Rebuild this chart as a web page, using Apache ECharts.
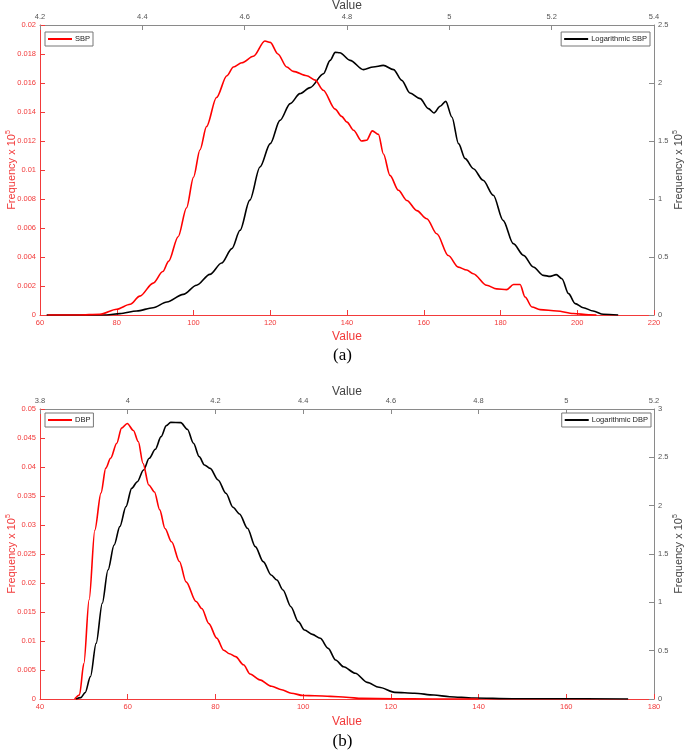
<!DOCTYPE html>
<html>
<head>
<meta charset="utf-8">
<script src="https://cdn.jsdelivr.net/npm/echarts@6/dist/echarts.min.js"></script>
<style>html,body{margin:0;padding:0;background:#fff}#c{width:685px;height:751px}</style>
</head>
<body>
<div id="c"></div>
<script>
// (a) SBP – raw values (bottom axis / left axis)
var sbpX = [62, 70, 75.6, 80, 83.5, 86, 89.5, 92, 93.5, 96, 98.2, 100, 101.7, 103.4, 106, 108.7, 110.4, 112.6, 115.6, 118.6, 120, 122, 124.3, 126, 129.5, 131.7, 133.8, 136.9, 138.6, 140, 141.7, 143.8, 145.1, 146.6, 148.2, 149.5, 151.2, 153.4, 155.6, 158.2, 160.8, 163.4, 166.4, 169, 171.2, 172.9, 176.4, 179, 181.6, 183.4, 185.1, 186.4, 188.2, 190.3, 194.7, 199, 203, 205];
var sbpY = [0, 0, 0.00005, 0.0004, 0.00074, 0.0013, 0.0022, 0.003, 0.0037, 0.0054, 0.0074, 0.0095, 0.0114, 0.013, 0.015, 0.0165, 0.0171, 0.0174, 0.01784, 0.0189, 0.0188, 0.018, 0.0171, 0.0168, 0.0165, 0.0162, 0.0155, 0.0142, 0.0137, 0.0133, 0.01274, 0.0120, 0.01205, 0.0127, 0.01246, 0.0111, 0.00963, 0.0086, 0.0079, 0.0072, 0.00664, 0.0056, 0.0041, 0.0033, 0.0031, 0.00285, 0.00205, 0.0018, 0.00175, 0.0021, 0.0021, 0.00124, 0.00055, 0.00037, 0.00028, 0.0001, 0.00002, 0];
// (a) Logarithmic SBP (top axis / right axis)
var logSbpX = [4.213, 4.33, 4.356, 4.389, 4.421, 4.448, 4.48, 4.506, 4.532, 4.555, 4.575, 4.591, 4.61, 4.63, 4.65, 4.669, 4.689, 4.708, 4.728, 4.754, 4.767, 4.777, 4.786, 4.806, 4.832, 4.851, 4.871, 4.891, 4.907, 4.923, 4.943, 4.959, 4.97, 4.982, 4.993, 5.005, 5.018, 5.031, 5.047, 5.066, 5.086, 5.105, 5.125, 5.145, 5.164, 5.184, 5.197, 5.209, 5.22, 5.233, 5.246, 5.262, 5.281, 5.301, 5.33];
var logSbpY = [0, 0, 0.012, 0.034, 0.063, 0.112, 0.178, 0.256, 0.35, 0.448, 0.572, 0.73, 0.99, 1.276, 1.477, 1.678, 1.822, 1.908, 1.96, 2.08, 2.195, 2.264, 2.261, 2.195, 2.115, 2.138, 2.152, 2.115, 2.023, 1.914, 1.865, 1.779, 1.741, 1.799, 1.842, 1.707, 1.477, 1.348, 1.261, 1.161, 1.032, 0.816, 0.615, 0.514, 0.414, 0.342, 0.333, 0.348, 0.313, 0.184, 0.098, 0.063, 0.034, 0.006, 0];
// (b) DBP
var dbpX = [47.9, 49, 50, 51.2, 52.5, 53.9, 55, 56.1, 57.5, 58.6, 59.9, 61.3, 62.4, 63.5, 64.8, 66.1, 67.3, 68.5, 70, 71.8, 73.3, 75.6, 76.9, 78.5, 80.3, 81.9, 83.2, 84.6, 86.4, 87.9, 90.1, 92.8, 95.1, 97.3, 100, 102.7, 106.2, 109.8, 113.4, 120.6, 129.5, 140];
var dbpY = [0, 0.0007, 0.0061, 0.0171, 0.0291, 0.0355, 0.0398, 0.0415, 0.0441, 0.0467, 0.0475, 0.0463, 0.0444, 0.0406, 0.0369, 0.0357, 0.0326, 0.0294, 0.0271, 0.0237, 0.0202, 0.0168, 0.0156, 0.013, 0.0105, 0.0084, 0.0078, 0.0073, 0.0059, 0.0043, 0.0033, 0.0022, 0.0016, 0.001, 0.0006, 0.00057, 0.00046, 0.0003, 0.0001, 0.00005, 0, 0];
// (b) Logarithmic DBP
var logDbpX = [3.882, 3.893, 3.903, 3.915, 3.928, 3.942, 3.955, 3.969, 3.982, 3.996, 4.009, 4.022, 4.036, 4.049, 4.063, 4.076, 4.088, 4.098, 4.121, 4.136, 4.15, 4.163, 4.175, 4.188, 4.206, 4.224, 4.24, 4.255, 4.273, 4.291, 4.309, 4.327, 4.34, 4.354, 4.372, 4.389, 4.403, 4.421, 4.439, 4.457, 4.474, 4.492, 4.519, 4.546, 4.573, 4.609, 4.654, 4.698, 4.734, 4.788, 4.877, 4.967, 5.141];
var logDbpY = [0, 0.014, 0.066, 0.231, 0.576, 0.99, 1.334, 1.593, 1.783, 1.99, 2.179, 2.248, 2.369, 2.49, 2.583, 2.714, 2.828, 2.862, 2.859, 2.79, 2.645, 2.507, 2.421, 2.386, 2.266, 2.128, 1.983, 1.914, 1.766, 1.576, 1.421, 1.283, 1.231, 1.128, 0.955, 0.8, 0.714, 0.669, 0.628, 0.524, 0.403, 0.334, 0.266, 0.172, 0.121, 0.069, 0.059, 0.041, 0.024, 0.01, 0.003, 0.003, 0];

var RED = '#ff0000', RED_AX = '#f23a3a', GRAY = '#555', GRAY_LINE = '#8a8a8a';
var FONT = 'Liberation Sans';

function pairs(xs, ys) { return xs.map(function (x, i) { return [x, ys[i]]; }); }

function freqName(color) {
  return {
    name: 'Frequency x 10{s|5}',
    nameLocation: 'middle',
    nameRotate: 90,
    nameMoveOverlap: false,
    nameTextStyle: { color: color, fontSize: 11, fontFamily: FONT,
      rich: { s: { fontSize: 7, color: color, fontFamily: FONT, padding: [0, 0, 7, 0] } } }
  };
}

function axisCommon(lineColor, labelColor) {
  return {
    type: 'value',
    nameMoveOverlap: false,
    axisLine: { show: true, onZero: false, lineStyle: { color: lineColor, width: 1 } },
    axisTick: { show: true, inside: true, length: 5, lineStyle: { color: lineColor } },
    axisLabel: { color: labelColor, fontSize: 7.5, fontFamily: FONT, margin: 4, showMinLabel: true, showMaxLabel: true, hideOverlap: false },
    splitLine: { show: false }
  };
}

function merge(a, b) { var o = {}; for (var k in a) o[k] = a[k]; for (var k2 in b) o[k2] = b[k2]; return o; }

var grids = [
  { left: 40, right: 31, top: 25, height: 290, containLabel: false, outerBoundsMode: 'none' },
  { left: 40, right: 31, top: 409, height: 290, containLabel: false, outerBoundsMode: 'none' }
];

var xAxes = [
  merge(axisCommon(RED_AX, RED_AX), { gridIndex: 0, position: 'bottom', min: 60, max: 220, interval: 20,
    name: 'Value', nameLocation: 'middle', nameGap: 16, nameTextStyle: { color: RED_AX, fontSize: 12, fontFamily: FONT } }),
  merge(axisCommon(GRAY_LINE, GRAY), { gridIndex: 0, position: 'top', min: 4.2, max: 5.4, interval: 0.2,
    name: 'Value', nameLocation: 'middle', nameGap: 13, nameTextStyle: { color: '#444', fontSize: 12, fontFamily: FONT } }),
  merge(axisCommon(RED_AX, RED_AX), { gridIndex: 1, position: 'bottom', min: 40, max: 180, interval: 20,
    name: 'Value', nameLocation: 'middle', nameGap: 17, nameTextStyle: { color: RED_AX, fontSize: 12, fontFamily: FONT } }),
  merge(axisCommon(GRAY_LINE, GRAY), { gridIndex: 1, position: 'top', min: 3.8, max: 5.2, interval: 0.2,
    name: 'Value', nameLocation: 'middle', nameGap: 11, nameTextStyle: { color: '#444', fontSize: 12, fontFamily: FONT } })
];

var yAxes = [
  merge(merge(axisCommon(RED_AX, RED_AX), freqName(RED_AX)), { gridIndex: 0, position: 'left', min: 0, max: 0.02, interval: 0.002, nameGap: 21 }),
  merge(merge(axisCommon(GRAY_LINE, GRAY), freqName('#444')), { gridIndex: 0, position: 'right', min: 0, max: 2.5, interval: 0.5, nameGap: 18 }),
  merge(merge(axisCommon(RED_AX, RED_AX), freqName(RED_AX)), { gridIndex: 1, position: 'left', min: 0, max: 0.05, interval: 0.005, nameGap: 21 }),
  merge(merge(axisCommon(GRAY_LINE, GRAY), freqName('#444')), { gridIndex: 1, position: 'right', min: 0, max: 3, interval: 0.5, nameGap: 18 })
];

function lineSeries(name, x, y, xi, yi, color) {
  return { type: 'line', name: name, xAxisIndex: xi, yAxisIndex: yi, data: pairs(x, y),
    showSymbol: false, smooth: 0.3, smoothMonotone: 'x',
    lineStyle: { color: color, width: 1.6 }, itemStyle: { color: color }, z: color === RED ? 3 : 2 };
}

function legend(name, pos) {
  var l = { data: [name], top: pos.top, orient: 'horizontal', icon: 'rect', itemWidth: 24, itemHeight: 2,
    itemGap: 2, padding: [3, 3, 3, 3], borderColor: '#777', borderWidth: 1, backgroundColor: '#fff',
    textStyle: { fontSize: 7.5, color: '#222', fontFamily: FONT, padding: [0, 0, 0, -2] }, selectedMode: false };
  if (pos.left != null) l.left = pos.left;
  if (pos.right != null) l.right = pos.right;
  return l;
}

var chart = echarts.init(document.getElementById('c'), null, { renderer: 'canvas' });
chart.setOption({
  animation: false,
  backgroundColor: '#fff',
  grid: grids,
  xAxis: xAxes,
  yAxis: yAxes,
  legend: [
    legend('SBP', { left: 45, top: 32 }),
    legend('Logarithmic SBP', { right: 35, top: 32 }),
    legend('DBP', { left: 45, top: 413 }),
    legend('Logarithmic DBP', { right: 34, top: 413 })
  ],
  title: [
    { text: '(a)', left: 'center', top: 342, textStyle: { fontFamily: 'Liberation Serif', fontSize: 17, fontWeight: 'normal', color: '#000' } },
    { text: '(b)', left: 'center', top: 728, textStyle: { fontFamily: 'Liberation Serif', fontSize: 17, fontWeight: 'normal', color: '#000' } }
  ],
  series: [
    lineSeries('Logarithmic SBP', logSbpX, logSbpY, 1, 1, '#000'),
    lineSeries('SBP', sbpX, sbpY, 0, 0, RED),
    lineSeries('Logarithmic DBP', logDbpX, logDbpY, 3, 3, '#000'),
    lineSeries('DBP', dbpX, dbpY, 2, 2, RED)
  ]
});
</script>
</body>
</html>
